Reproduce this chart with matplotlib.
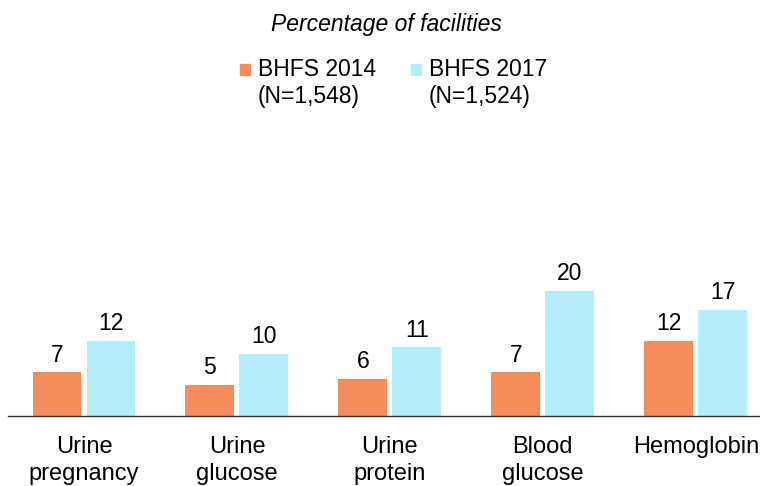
import numpy as np
import matplotlib
matplotlib.use("Agg")
import matplotlib.pyplot as plt
from matplotlib.patches import Rectangle

# Data
categories = ["Urine\npregnancy", "Urine\nglucose", "Urine\nprotein", "Blood\nglucose", "Hemoglobin"]
bhfs_2014 = [7, 5, 6, 7, 12]
bhfs_2017 = [12, 10, 11, 20, 17]
series_labels = ["BHFS 2014\n(N=1,548)", "BHFS 2017\n(N=1,524)"]
colors = ["#F48D5B", "#B4EEFA"]

plt.rcParams["font.family"] = ["Liberation Sans", "DejaVu Sans"]

W, H = 760, 486
fig = plt.figure(figsize=(7.6, 4.86), dpi=100)
ax = fig.add_axes([8 / W, 70 / H, 752 / W, 266 / H])

x = np.arange(len(categories))
width = 0.32
offset = 0.1766

bars1 = ax.bar(x - offset, bhfs_2014, width, color=colors[0])
bars2 = ax.bar(x + offset, bhfs_2017, width, color=colors[1])

# Value labels above the bars
for bars in (bars1, bars2):
    for b in bars:
        ax.annotate(
            f"{b.get_height():g}",
            (b.get_x() + b.get_width() / 2, b.get_height()),
            textcoords="offset points",
            xytext=(0, 4),
            ha="center",
            va="bottom",
            fontsize=16.5,
        )

ax.set_xlim(-0.497, 4.42)
ax.set_ylim(0, 42.56)
ax.set_xticks(x)
ax.set_xticklabels(categories, fontsize=17, linespacing=1.3, va="top")
ax.tick_params(axis="x", length=0, pad=14.5)
ax.set_yticks([])
for s in ["top", "right", "left"]:
    ax.spines[s].set_visible(False)
ax.spines["bottom"].set_color("#333333")
ax.spines["bottom"].set_linewidth(1.0)

# Title
fig.text(386 / W, 1 - 24 / H, "Percentage of facilities", ha="center", va="center",
         fontsize=16.5, style="italic")

# Legend drawn by hand so the swatch lines up with the first text line
legend_x = [240, 411]
for lx, lab, col in zip(legend_x, series_labels, colors):
    fig.patches.append(Rectangle((lx / W, 1 - 75 / H), 10 / W, 11 / H,
                                 transform=fig.transFigure, color=col))
    fig.text((lx + 18) / W, 1 - 58 / H, lab, ha="left", va="top",
             fontsize=16.5, linespacing=1.2)

fig.savefig("out.png", dpi=100)
